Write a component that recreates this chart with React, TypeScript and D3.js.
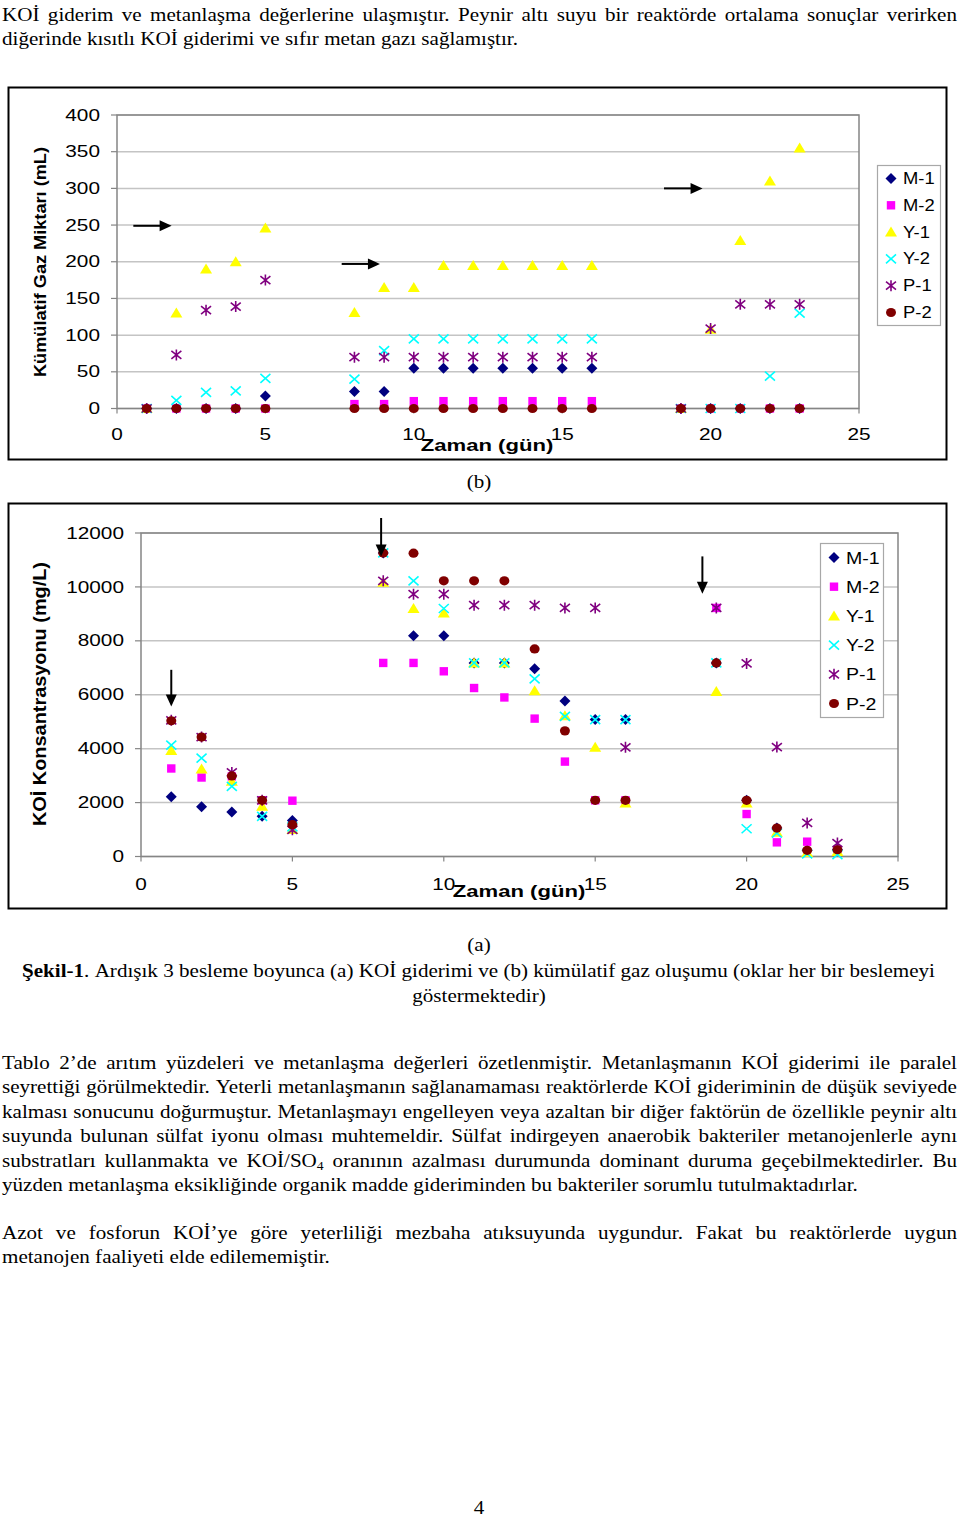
import React from "react";
import * as d3 from "d3";

// ---------------- data ----------------
const days = [1, 2, 3, 4, 5, 8, 9, 10, 11, 12, 13, 14, 15, 16, 19, 20, 21, 22, 23];
const seriesNames = ["M-1", "M-2", "Y-1", "Y-2", "P-1", "P-2"];

// (b) cumulative gas (mL)
const gasM1 = [0, 0, 0, 0, 17, 23, 23, 55, 55, 55, 55, 55, 55, 55, 0, 0, 0, 0, 0];
const gasM2 = [0, 0, 0, 0, 0, 6, 6, 10, 10, 10, 10, 10, 10, 10, 0, 0, 0, 0, 0];
const gasY1 = [0, 130, 190, 200, 246, 131, 165, 165, 195, 195, 195, 195, 195, 195, 0, 108, 229, 310, 355];
const gasY2 = [0, 11, 22, 24, 41, 40, 79, 95, 95, 95, 95, 95, 95, 95, 0, 0, 0, 44, 130];
const gasP1 = [0, 73, 134, 139, 175, 70, 70, 70, 70, 70, 70, 70, 70, 70, 0, 109, 142, 142, 142];
const gasP2 = [0, 0, 0, 0, 0, 0, 0, 0, 0, 0, 0, 0, 0, 0, 0, 0, 0, 0, 0];

// (a) COD concentration (mg/L)
const codM1 = [2215, 1850, 1650, 1490, 1340, 11260, 8190, 8190, 7180, 7180, 6960, 5770, 5080, 5080, 7180, 2085, 1055, 230, 250];
const codM2 = [3265, 2930, 2970, 2085, 2070, 7180, 7180, 6870, 6250, 5900, 5115, 3520, 2085, 2085, 9220, 1575, 525, 550, 250];
const codY1 = [3935, 3250, 2790, 1860, 1000, 10170, 9200, 9030, 7180, 7180, 6150, 5220, 4050, 1985, 6120, 1985, 900, 150, 190];
const codY2 = [4130, 3650, 2600, 1490, 1100, 11260, 10225, 9200, 7180, 7180, 6590, 5200, 5080, 5080, 7180, 1030, 870, 100, 70];
const codP1 = [5050, 4430, 3120, 2085, 990, 10225, 9730, 9730, 9320, 9320, 9320, 9220, 9220, 4050, 9220, 7160, 4060, 1245, 500];
const codP2 = [5035, 4430, 2990, 2085, 1180, 11260, 11250, 10225, 10225, 10225, 7700, 4660, 2085, 2085, 7180, 2085, 1055, 230, 250];

const dayTicks = [0, 5, 10, 15, 20, 25];
const gasTicks = [0, 50, 100, 150, 200, 250, 300, 350, 400];
const codTicks = [0, 2000, 4000, 6000, 8000, 10000, 12000];

// feeding arrows (data units)
const gasArrows = [
  { d0: 0.55, d1: 1.84, v: 249 },
  { d0: 7.57, d1: 8.86, v: 197 },
  { d0: 18.43, d1: 19.73, v: 300 },
];
const codArrows = [
  { d: 1.0, v0: 6925, v1: 5560 },
  { d: 7.93, v0: 12557, v1: 11132 },
  { d: 18.54, v0: 11132, v1: 9747 },
];

// text
const topLines = [
  "KOİ giderim ve metanlaşma değerlerine ulaşmıştır. Peynir altı suyu bir reaktörde ortalama sonuçlar verirken",
  "diğerinde kısıtlı KOİ giderimi ve sıfır metan gazı sağlamıştır.",
];
const para1 = [
  "Tablo 2’de arıtım yüzdeleri ve metanlaşma değerleri özetlenmiştir. Metanlaşmanın KOİ giderimi ile paralel",
  "seyrettiği görülmektedir. Yeterli metanlaşmanın sağlanamaması reaktörlerde KOİ gideriminin de düşük seviyede",
  "kalması sonucunu doğurmuştur. Metanlaşmayı engelleyen veya azaltan bir diğer faktörün de özellikle peynir altı",
  "suyunda bulunan sülfat iyonu olması muhtemeldir. Sülfat indirgeyen anaerobik bakteriler metanojenlerle aynı",
  "substratları kullanmakta ve KOİ/SO|4 oranının azalması durumunda dominant duruma geçebilmektedirler. Bu",
  "yüzden metanlaşma eksikliğinde organik madde gideriminden bu bakteriler sorumlu tutulmaktadırlar.",
];
const para2 = [
  "Azot ve fosforun KOİ’ye göre yeterliliği mezbaha atıksuyunda uygundur. Fakat bu reaktörlerde uygun",
  "metanojen faaliyeti elde edilememiştir.",
];
const captionBold = "Şekil-1";
const captionLine1 = ". Ardışık 3 besleme boyunca (a) KOİ giderimi ve (b) kümülatif gaz oluşumu (oklar her bir beslemeyi";
const captionLine2 = "göstermektedir)";

// ---------------- styles ----------------
const SANS = "'Liberation Sans', Arial, sans-serif";
const SERIF = "'Liberation Serif', 'Times New Roman', serif";
const SX = 1.3;
const BODY_FS = 18.5;
const BODY_SX = 1.14;
const markerKinds = ["diamond", "square", "triangle", "x", "star", "circle"];

type Seg = { t: string; b?: boolean; sub?: boolean };

let _ctx: CanvasRenderingContext2D | null = null;
function measureSeg(seg: Seg) {
  if (!_ctx) _ctx = document.createElement("canvas").getContext("2d");
  const fs = seg.sub ? BODY_FS * 0.65 : BODY_FS;
  _ctx!.font = `${seg.b ? "bold " : ""}${fs}px ${SERIF}`;
  return _ctx!.measureText(seg.t).width;
}

function toWords(s: string): Seg[][] {
  return s.split(" ").map((w) => {
    if (w.includes("|")) {
      const [a, b] = w.split("|");
      return [{ t: a }, { t: b, sub: true }];
    }
    return [{ t: w }];
  });
}

function TextLine({ words, y, mode, x0 = 2, x1 = 957, cx = 479 }: any) {
  const widths = words.map((w: Seg[]) => w.reduce((s, seg) => s + measureSeg(seg), 0) * BODY_SX);
  const space = measureSeg({ t: " " }) * BODY_SX;
  const total = widths.reduce((a: number, b: number) => a + b, 0);
  let gap = space;
  let start = x0;
  if (mode === "justify") gap = (x1 - x0 - total) / (words.length - 1);
  else if (mode === "center") start = cx - (total + space * (words.length - 1)) / 2;
  let pos = start;
  return (
    <g>
      {words.map((w: Seg[], i: number) => {
        const px = pos;
        pos += widths[i] + gap;
        return (
          <text key={i} transform={`translate(${px},${y}) scale(${BODY_SX},1)`} fontFamily={SERIF} fontSize={BODY_FS} fill="#000">
            {w.map((seg, j) => (
              <tspan key={j} fontWeight={seg.b ? "bold" : "normal"} fontSize={seg.sub ? BODY_FS * 0.65 : undefined} dy={seg.sub ? 3 : undefined}>
                {seg.t}
              </tspan>
            ))}
          </text>
        );
      })}
    </g>
  );
}

function SText({ x, y, size, anchor = "start", bold = false, sx = SX, rotate = false, textLength, children }: any) {
  const tr = `translate(${x},${y}) scale(${sx},1)` + (rotate ? " rotate(-90)" : "");
  return (
    <text
      transform={tr}
      fontSize={size}
      textAnchor={anchor}
      fontWeight={bold ? "bold" : "normal"}
      fontFamily={SANS}
      dominantBaseline="central"
      fill="#000"
      textLength={textLength}
      lengthAdjust={textLength ? "spacingAndGlyphs" : undefined}
    >
      {children}
    </text>
  );
}

function Marker({ kind, x, y }: any) {
  switch (kind) {
    case "diamond":
      return <path d={`M${x},${y - 5.5}L${x + 5.5},${y}L${x},${y + 5.5}L${x - 5.5},${y}Z`} fill="#000080" />;
    case "square":
      return <rect x={x - 4.2} y={y - 4.2} width={8.4} height={8.4} fill="#FF00FF" />;
    case "triangle":
      return <path d={`M${x},${y - 5.5}L${x + 6},${y + 4.5}L${x - 6},${y + 4.5}Z`} fill="#FFFF00" />;
    case "x":
      return (
        <path d={`M${x - 5},${y - 4.5}L${x + 5},${y + 4.5}M${x - 5},${y + 4.5}L${x + 5},${y - 4.5}`} stroke="#00FFFF" strokeWidth={1.6} fill="none" />
      );
    case "star":
      return (
        <path
          d={`M${x - 5},${y - 4}L${x + 5},${y + 4}M${x - 5},${y + 4}L${x + 5},${y - 4}M${x},${y - 5.5}L${x},${y + 5.5}`}
          stroke="#800080"
          strokeWidth={1.6}
          fill="none"
        />
      );
    default:
      return <ellipse cx={x} cy={y} rx={5} ry={4.6} fill="#800000" />;
  }
}

function Chart({ cfg }: any) {
  const { x, y, series, yTicks, frame, yLabelRight, xLabelY, xTitle, yTitle, legend, hArrows, vArrows } = cfg;
  const gridColor = "#c4c4c4";
  const axisColor = "#858585";
  return (
    <g>
      <rect x={frame[0]} y={frame[1]} width={frame[2]} height={frame[3]} fill="#fff" stroke="#000" strokeWidth={2} />
      {yTicks.map((t: number) => (
        <line key={"g" + t} x1={x(0)} x2={x(25)} y1={y(t)} y2={y(t)} stroke={gridColor} strokeWidth={1.5} />
      ))}
      <rect x={x(0)} y={y(yTicks[yTicks.length - 1])} width={x(25) - x(0)} height={y(0) - y(yTicks[yTicks.length - 1])} fill="none" stroke={axisColor} strokeWidth={1.5} />
      {yTicks.map((t: number) => (
        <line key={"yt" + t} x1={x(0) - 6} x2={x(0)} y1={y(t)} y2={y(t)} stroke={axisColor} strokeWidth={1.2} />
      ))}
      {dayTicks.map((t) => (
        <line key={"xt" + t} x1={x(t)} x2={x(t)} y1={y(0)} y2={y(0) + 5} stroke={axisColor} strokeWidth={1.2} />
      ))}
      {yTicks.map((t: number) => (
        <SText key={"yl" + t} x={yLabelRight} y={y(t)} size={16} anchor="end">
          {t}
        </SText>
      ))}
      {dayTicks.map((t) => (
        <SText key={"xl" + t} x={x(t)} y={xLabelY} size={16} anchor="middle">
          {t}
        </SText>
      ))}
      {series.map((s: number[], si: number) =>
        s.map((v, i) =>
          v == null ? null : <Marker key={si + "-" + i} kind={markerKinds[si]} x={x(days[i])} y={y(v)} />
        )
      )}
      {hArrows &&
        hArrows.map((a: any, i: number) => {
          const xa = x(a.d0), xb = x(a.d1), ya = y(a.v);
          return (
            <g key={"ha" + i}>
              <line x1={xa} x2={xb - 10} y1={ya} y2={ya} stroke="#000" strokeWidth={2} />
              <path d={`M${xb},${ya}L${xb - 12},${ya - 5.5}L${xb - 12},${ya + 5.5}Z`} fill="#000" />
            </g>
          );
        })}
      {vArrows &&
        vArrows.map((a: any, i: number) => {
          const xa = x(a.d), ya = y(a.v0), yb = y(a.v1);
          return (
            <g key={"va" + i}>
              <line x1={xa} x2={xa} y1={ya} y2={yb - 10} stroke="#000" strokeWidth={2} />
              <path d={`M${xa},${yb}L${xa - 5.5},${yb - 12}L${xa + 5.5},${yb - 12}Z`} fill="#000" />
            </g>
          );
        })}
      <SText x={xTitle[0]} y={xTitle[1]} size={17} anchor="middle" bold>
        Zaman (gün)
      </SText>
      <SText x={yTitle[0]} y={yTitle[1]} size={yTitle[3]} anchor="middle" bold rotate sx={1} textLength={yTitle[2]}>
        {yTitle[4]}
      </SText>
      <rect x={legend.box[0]} y={legend.box[1]} width={legend.box[2]} height={legend.box[3]} fill="#fff" stroke="#a8a8a8" strokeWidth={1.2} />
      {seriesNames.map((n, i) => {
        const ly = legend.y0 + legend.dy * i;
        return (
          <g key={"lg" + n}>
            <Marker kind={markerKinds[i]} x={legend.mx} y={ly} />
            <SText x={legend.tx} y={ly} size={legend.fs} sx={1.15}>
              {n}
            </SText>
          </g>
        );
      })}
    </g>
  );
}

export default function App() {
  const gx = d3.scaleLinear().domain([0, 25]).range([117, 859]);
  const gy = d3.scaleLinear().domain([0, 400]).range([408.5, 115]);
  const cx = d3.scaleLinear().domain([0, 25]).range([141, 898]);
  const cy = d3.scaleLinear().domain([0, 12000]).range([856.5, 533]);

  const gasCfg = {
    x: gx,
    y: gy,
    series: [gasM1, gasM2, gasY1, gasY2, gasP1, gasP2],
    yTicks: gasTicks,
    frame: [8.5, 87.5, 938, 372],
    yLabelRight: 100,
    xLabelY: 434,
    xTitle: [487, 445],
    yTitle: [40, 262, 230, 17, "Kümülatif Gaz Miktarı (mL)"],
    legend: { box: [877.5, 165.5, 63, 160], y0: 178.5, dy: 26.8, mx: 891, tx: 903, fs: 16 },
    hArrows: gasArrows,
  };
  const codCfg = {
    x: cx,
    y: cy,
    series: [codM1, codM2, codY1, codY2, codP1, codP2],
    yTicks: codTicks,
    frame: [8.5, 503.5, 938, 405],
    yLabelRight: 124,
    xLabelY: 884,
    xTitle: [519, 891],
    yTitle: [40, 694, 264, 18, "KOİ Konsantrasyonu (mg/L)"],
    legend: { box: [820.5, 543.5, 63, 174], y0: 557.5, dy: 29.2, mx: 834, tx: 846, fs: 17 },
    vArrows: codArrows,
  };

  const captionWords: Seg[][] = toWords(captionLine1);
  captionWords[0] = [{ t: captionBold, b: true }, ...captionWords[0]];

  return (
    <svg width={960} height={1520} style={{ position: "absolute", left: 0, top: 0, background: "#fff" }}>
      <rect x={0} y={0} width={960} height={1520} fill="#fff" />
      <TextLine words={toWords(topLines[0])} y={21} mode="justify" />
      <TextLine words={toWords(topLines[1])} y={45} mode="left" />

      <Chart cfg={gasCfg} />
      <TextLine words={toWords("(b)")} y={488} mode="center" />

      <Chart cfg={codCfg} />
      <TextLine words={toWords("(a)")} y={951} mode="center" />
      <TextLine words={captionWords} y={977} mode="justify" x0={22} x1={935} />
      <TextLine words={toWords(captionLine2)} y={1002} mode="center" />

      {para1.map((l, i) => (
        <TextLine key={"p1" + i} words={toWords(l)} y={1069 + 24.4 * i} mode={i === para1.length - 1 ? "left" : "justify"} />
      ))}
      {para2.map((l, i) => (
        <TextLine key={"p2" + i} words={toWords(l)} y={1239 + 24.4 * i} mode={i === para2.length - 1 ? "left" : "justify"} />
      ))}
      <TextLine words={toWords("4")} y={1514} mode="center" />
    </svg>
  );
}
